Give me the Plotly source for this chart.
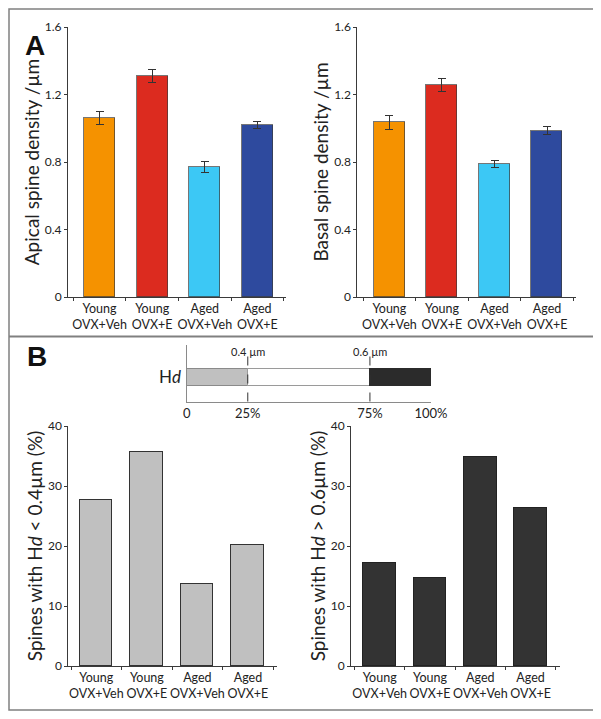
import plotly.graph_objects as go

# ---------------- data ----------------
groups = ["Young<br>OVX+Veh", "Young<br>OVX+E", "Aged<br>OVX+Veh", "Aged<br>OVX+E"]
apical = [1.06, 1.31, 0.77, 1.02]
apical_err = [0.037, 0.04, 0.032, 0.022]
basal = [1.035, 1.255, 0.79, 0.985]
basal_err = [0.04, 0.04, 0.02, 0.024]
hd_small = [27.7, 35.6, 13.6, 20.1]
hd_large = [17.1, 14.6, 34.8, 26.4]
group_colors = ["#F59200", "#DC2B1F", "#3CC8F5", "#2E4A9E"]

hd_segments = [25, 50, 25]
hd_segment_colors = ["#C0C0C0", "#FFFFFF", "#2B2B2B"]
hd_segment_lines = ["#8A8A8A", "#9A9A9A", "#2B2B2B"]
hd_tick_vals = [0, 25, 75, 100]
hd_tick_text = ["0", "25%", "75%", "100%"]
hd_thresholds = [25, 75]
hd_threshold_labels = ["0.4 µm", "0.6 µm"]

apical_ticks = [0, 0.4, 0.8, 1.2, 1.6]
pct_ticks = [0, 10, 20, 30, 40]

# the page has an 8px body margin, so the figure is sized to fill the rest of the window
OFF = 8
W, H = 601 - OFF, 719 - OFF
FONT = "Lato"
AXC = "#3a3a3a"

def px(x):
    return (x - OFF) / W

def py(y):
    return 1 - (y - OFF) / H

fig = go.Figure()

err_style = dict(type="data", color="#333333", thickness=1, width=4)

fig.add_trace(go.Bar(x=groups, y=apical, marker=dict(color=group_colors, line=dict(color="rgba(60,60,60,0.7)", width=1)),
                     error_y=dict(array=apical_err, **err_style), width=0.59, xaxis="x", yaxis="y", showlegend=False))
fig.add_trace(go.Bar(x=groups, y=basal, marker=dict(color=group_colors, line=dict(color="rgba(60,60,60,0.7)", width=1)),
                     error_y=dict(array=basal_err, **err_style), width=0.59, xaxis="x2", yaxis="y2", showlegend=False))
fig.add_trace(go.Bar(x=groups, y=hd_small, marker=dict(color="#C0C0C0", line=dict(color="#333333", width=1)),
                     width=0.64, xaxis="x3", yaxis="y3", showlegend=False))
fig.add_trace(go.Bar(x=groups, y=hd_large, marker=dict(color="#333333", line=dict(color="#222222", width=1)),
                     width=0.65, xaxis="x4", yaxis="y4", showlegend=False))

for seg, col, lc in zip(hd_segments, hd_segment_colors, hd_segment_lines):
    fig.add_trace(go.Bar(x=[seg], y=[0], orientation="h", width=0.5,
                         marker=dict(color=col, line=dict(color=lc, width=1)),
                         xaxis="x5", yaxis="y5", showlegend=False))

tickfont = dict(family=FONT, size=12.5, color="#222222")
ytickfont = dict(family=FONT, size=12, color="#222222")
titlefont = dict(family=FONT, size=19, color="#222222")

def xcat(domain, anchor, rng):
    return dict(domain=domain, anchor=anchor, type="category", range=rng,
                showline=True, linecolor=AXC, linewidth=1, tickson="boundaries",
                ticks="outside", ticklen=3, tickcolor=AXC, tickfont=tickfont, tickangle=0,
                showgrid=False, zeroline=False, fixedrange=True, automargin=False)

def yval(domain, anchor, rng, tickvals, title):
    return dict(domain=domain, anchor=anchor, range=rng, tickvals=tickvals,
                showline=True, linecolor=AXC, linewidth=1, ticks="outside", ticklen=3,
                tickcolor=AXC, tickfont=ytickfont, showgrid=False, zeroline=False,
                title=dict(text=title, font=titlefont, standoff=0), fixedrange=True,
                automargin=False)

layout = dict(
    width=W, height=H, margin=dict(l=0, r=0, t=0, b=0, autoexpand=False),
    paper_bgcolor="white", plot_bgcolor="white", barmode="stack", bargap=0,
    font=dict(family=FONT, color="#222222"),
    xaxis=xcat([px(68), px(286)], "y", [-0.6, 3.544]),
    yaxis=yval([py(297), py(27)], "x", [0, 1.6], apical_ticks, "Apical spine density /µm"),
    xaxis2=xcat([px(357.3), px(576)], "y2", [-0.61, 3.55]),
    yaxis2=yval([py(297), py(27)], "x2", [0, 1.6], apical_ticks, "Basal spine density /µm"),
    xaxis3=xcat([px(68.3), px(276.7)], "y3", [-0.555, 3.57]),
    yaxis3=yval([py(666), py(426)], "x3", [0, 40], pct_ticks, "Spines with H<i>d</i> < 0.4µm (%)"),
    xaxis4=xcat([px(351), px(560)], "y4", [-0.57, 3.585]),
    yaxis4=yval([py(666), py(426)], "x4", [0, 40], pct_ticks, "Spines with H<i>d</i> > 0.6µm (%)"),
    xaxis5=dict(domain=[px(186.7), px(431)], anchor="y5", range=[0, 100], tickvals=hd_tick_vals,
                ticktext=hd_tick_text, showline=True, linecolor="#8a8a8a", linewidth=1, ticks="",
                tickfont=dict(family=FONT, size=13, color="#222222"), showgrid=False, zeroline=False,
                fixedrange=True, automargin=False, tickangle=0),
    yaxis5=dict(domain=[py(401.5), py(345)], anchor="x5", range=[-0.72, 0.95], showline=True,
                linecolor="#8a8a8a", linewidth=1, showticklabels=False, ticks="", showgrid=False,
                zeroline=False, fixedrange=True, automargin=False),
)
fig.update_layout(**layout)

# threshold dashed lines and labels in schematic
for t, lab in zip(hd_thresholds, hd_threshold_labels):
    fig.add_shape(type="line", xref="x5", yref="y5 domain", x0=t, x1=t, y0=0, y1=0.80,
                  line=dict(color="#333333", width=1, dash="dash"))
    fig.add_annotation(x=t, y=0.88, xref="x5", yref="y5 domain", text=lab, showarrow=False,
                       font=dict(family=FONT, size=11, color="#222222"), yanchor="middle", xanchor="center")

fig.add_annotation(x=px(183), y=py(376.7), xref="paper", yref="paper", text="H<i>d</i>",
                   showarrow=False, xanchor="right", yanchor="middle",
                   font=dict(family=FONT, size=17, color="#222222"))

# panel letters
fig.add_annotation(x=px(23), y=py(28), xref="paper", yref="paper", text="<b>A</b>", showarrow=False,
                   font=dict(family="Liberation Sans", size=28, color="#111111"))
fig.add_annotation(x=px(25), y=py(356), xref="paper", yref="paper", text="<b>B</b>", showarrow=False,
                   font=dict(family="Liberation Sans", size=28, color="#111111"))

# figure frame and divider
fig.add_shape(type="rect", xref="paper", yref="paper", x0=px(9), x1=px(594), y0=py(710), y1=py(9),
              line=dict(color="#808080", width=1.5))
fig.add_shape(type="line", xref="paper", yref="paper", x0=px(9), x1=px(594), y0=py(336.5), y1=py(336.5),
              line=dict(color="#808080", width=2))

fig.write_html("out.html")
